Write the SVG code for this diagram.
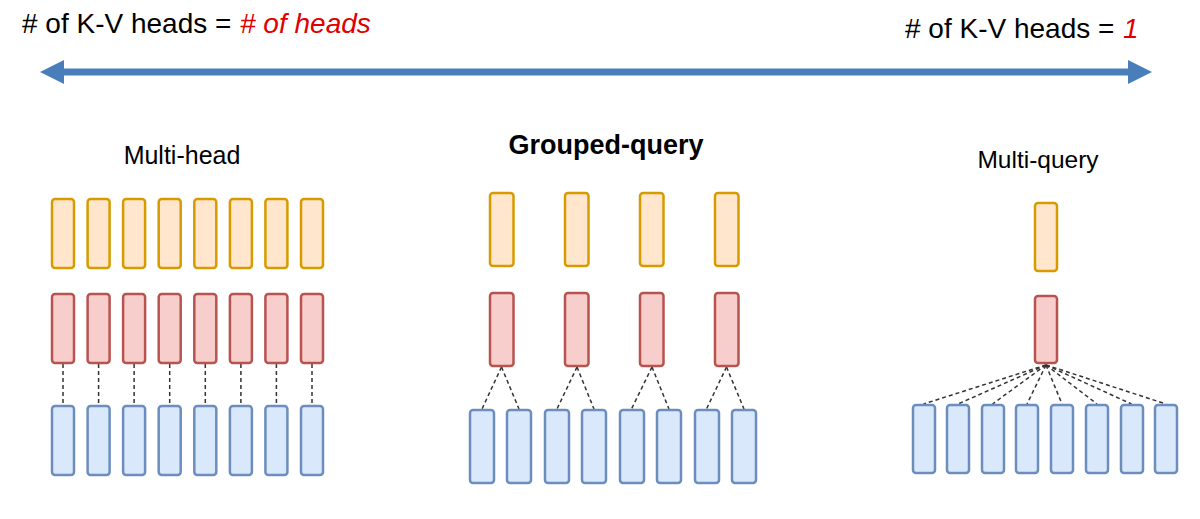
<svg xmlns="http://www.w3.org/2000/svg" width="1200" height="519" viewBox="0 0 1200 519">
<style>
.bg{fill:#ffffff}
.q{fill:#FFE6CC;stroke:#D79B00;stroke-width:2.5}
.k{fill:#F8CECC;stroke:#B85450;stroke-width:2.5}
.v{fill:#DAE8FC;stroke:#6C8EBF;stroke-width:2.5}
.d{stroke:#333333;stroke-width:1.5;stroke-dasharray:4 3;fill:none}
.top{font-family:"Liberation Sans",Arial,sans-serif;font-size:28px;fill:#000}
.red{fill:#E00000;font-style:italic}
.lbl{font-family:"Liberation Sans",Arial,sans-serif;font-size:25px;fill:#000;text-anchor:middle}
</style>
<rect class="bg" x="0" y="0" width="1200" height="519"/>

<g id="header">
<text class="top" x="22" y="33"># of K-V heads =</text>
<text class="top red" x="240" y="33"># of heads</text>
<text class="top" x="905" y="38"># of K-V heads =</text>
<text class="top red" x="1123" y="38">1</text>
</g>

<g id="axis-arrow">
<line x1="60" y1="72" x2="1132" y2="72" stroke="#4A7EBB" stroke-width="7"/>
<polygon points="40,72 64,60 64,84" fill="#4A7EBB"/>
<polygon points="1152,72 1128,60 1128,84" fill="#4A7EBB"/>
</g>

<g id="connectors">
<line class="d" x1="63" y1="364" x2="63" y2="405"/>
<line class="d" x1="98.6" y1="364" x2="98.6" y2="405"/>
<line class="d" x1="134.1" y1="364" x2="134.1" y2="405"/>
<line class="d" x1="169.7" y1="364" x2="169.7" y2="405"/>
<line class="d" x1="205.3" y1="364" x2="205.3" y2="405"/>
<line class="d" x1="240.9" y1="364" x2="240.9" y2="405"/>
<line class="d" x1="276.4" y1="364" x2="276.4" y2="405"/>
<line class="d" x1="312" y1="364" x2="312" y2="405"/>
<line class="d" x1="501.5" y1="367" x2="482" y2="409"/>
<line class="d" x1="501.5" y1="367" x2="519" y2="409"/>
<line class="d" x1="577" y1="367" x2="557" y2="409"/>
<line class="d" x1="577" y1="367" x2="594" y2="409"/>
<line class="d" x1="652" y1="367" x2="631.5" y2="409"/>
<line class="d" x1="652" y1="367" x2="669" y2="409"/>
<line class="d" x1="726.5" y1="367" x2="706.5" y2="409"/>
<line class="d" x1="726.5" y1="367" x2="744" y2="409"/>
<line class="d" x1="1046" y1="365" x2="923.5" y2="404"/>
<line class="d" x1="1046" y1="365" x2="958" y2="404"/>
<line class="d" x1="1046" y1="365" x2="992.5" y2="404"/>
<line class="d" x1="1046" y1="365" x2="1027" y2="404"/>
<line class="d" x1="1046" y1="365" x2="1062" y2="404"/>
<line class="d" x1="1046" y1="365" x2="1097" y2="404"/>
<line class="d" x1="1046" y1="365" x2="1131.5" y2="404"/>
<line class="d" x1="1046" y1="365" x2="1166" y2="404"/>
</g>

<g id="multi-head">
<text class="lbl" x="182" y="164">Multi-head</text>
<g id="mh-queries">
<rect class="q" x="52" y="199" width="22" height="69" rx="3"/>
<rect class="q" x="87.6" y="199" width="22" height="69" rx="3"/>
<rect class="q" x="123.1" y="199" width="22" height="69" rx="3"/>
<rect class="q" x="158.7" y="199" width="22" height="69" rx="3"/>
<rect class="q" x="194.3" y="199" width="22" height="69" rx="3"/>
<rect class="q" x="229.9" y="199" width="22" height="69" rx="3"/>
<rect class="q" x="265.4" y="199" width="22" height="69" rx="3"/>
<rect class="q" x="301" y="199" width="22" height="69" rx="3"/>
</g>
<g id="mh-keys">
<rect class="k" x="52" y="294" width="22" height="69" rx="3"/>
<rect class="k" x="87.6" y="294" width="22" height="69" rx="3"/>
<rect class="k" x="123.1" y="294" width="22" height="69" rx="3"/>
<rect class="k" x="158.7" y="294" width="22" height="69" rx="3"/>
<rect class="k" x="194.3" y="294" width="22" height="69" rx="3"/>
<rect class="k" x="229.9" y="294" width="22" height="69" rx="3"/>
<rect class="k" x="265.4" y="294" width="22" height="69" rx="3"/>
<rect class="k" x="301" y="294" width="22" height="69" rx="3"/>
</g>
<g id="mh-values">
<rect class="v" x="52" y="406" width="22" height="69" rx="3"/>
<rect class="v" x="87.6" y="406" width="22" height="69" rx="3"/>
<rect class="v" x="123.1" y="406" width="22" height="69" rx="3"/>
<rect class="v" x="158.7" y="406" width="22" height="69" rx="3"/>
<rect class="v" x="194.3" y="406" width="22" height="69" rx="3"/>
<rect class="v" x="229.9" y="406" width="22" height="69" rx="3"/>
<rect class="v" x="265.4" y="406" width="22" height="69" rx="3"/>
<rect class="v" x="301" y="406" width="22" height="69" rx="3"/>
</g>
</g>

<g id="grouped-query">
<text class="lbl" x="606" y="154" style="font-weight:bold;font-size:27px">Grouped-query</text>
<g id="gq-queries">
<rect class="q" x="490" y="193" width="23.5" height="73" rx="3"/>
<rect class="q" x="565" y="193" width="23.5" height="73" rx="3"/>
<rect class="q" x="640" y="193" width="23.5" height="73" rx="3"/>
<rect class="q" x="715" y="193" width="23.5" height="73" rx="3"/>
</g>
<g id="gq-keys">
<rect class="k" x="490" y="293" width="23.5" height="73" rx="3"/>
<rect class="k" x="565" y="293" width="23.5" height="73" rx="3"/>
<rect class="k" x="640" y="293" width="23.5" height="73" rx="3"/>
<rect class="k" x="715" y="293" width="23.5" height="73" rx="3"/>
</g>
<g id="gq-values">
<rect class="v" x="470" y="410" width="24" height="73" rx="3"/>
<rect class="v" x="507" y="410" width="24" height="73" rx="3"/>
<rect class="v" x="545" y="410" width="24" height="73" rx="3"/>
<rect class="v" x="582" y="410" width="24" height="73" rx="3"/>
<rect class="v" x="620" y="410" width="24" height="73" rx="3"/>
<rect class="v" x="657" y="410" width="24" height="73" rx="3"/>
<rect class="v" x="695" y="410" width="24" height="73" rx="3"/>
<rect class="v" x="732" y="410" width="24" height="73" rx="3"/>
</g>
</g>

<g id="multi-query">
<text class="lbl" x="1038" y="168" style="font-size:24.5px">Multi-query</text>
<g id="mq-query">
<rect class="q" x="1035" y="203" width="22" height="68" rx="3"/>
</g>
<g id="mq-key">
<rect class="k" x="1035" y="296" width="22" height="67" rx="3"/>
</g>
<g id="mq-values">
<rect class="v" x="913" y="405" width="22" height="68" rx="3"/>
<rect class="v" x="947" y="405" width="22" height="68" rx="3"/>
<rect class="v" x="982" y="405" width="22" height="68" rx="3"/>
<rect class="v" x="1016" y="405" width="22" height="68" rx="3"/>
<rect class="v" x="1051" y="405" width="22" height="68" rx="3"/>
<rect class="v" x="1086" y="405" width="22" height="68" rx="3"/>
<rect class="v" x="1121" y="405" width="22" height="68" rx="3"/>
<rect class="v" x="1155" y="405" width="22" height="68" rx="3"/>
</g>
</g>
</svg>
